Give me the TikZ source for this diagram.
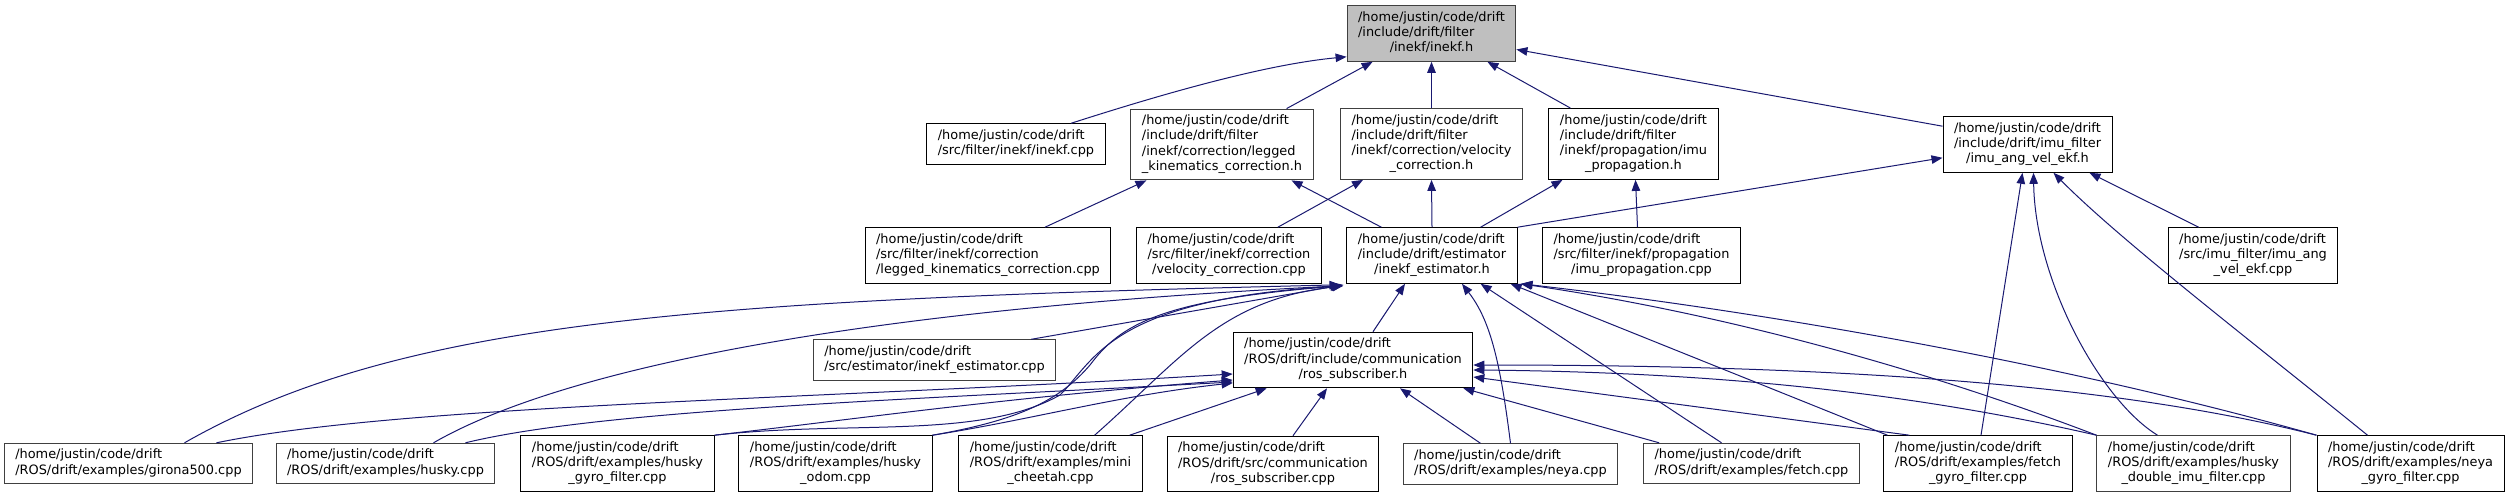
\documentclass[tikz,border=0pt]{standalone}
\usepackage{fontspec}
\setmainfont{DejaVu Sans}
\usetikzlibrary{arrows.meta}

\definecolor{edgeblue}{HTML}{191970}
\definecolor{rootgray}{HTML}{BFBFBF}
\definecolor{framegray}{HTML}{404040}

\newcommand{\filelabel}[2]{\begin{tabular}{@{}l@{}}#1\\\multicolumn{1}{@{}c@{}}{#2}\end{tabular}}

\begin{document}
\begin{tikzpicture}[
            x=1pt, y=-1pt,
            >={Triangle[length=11pt, width=8.5pt]},
            file/.style={
                rectangle,
                draw=black,
                line width=1pt,
                inner xsep=11pt,
                inner ysep=5pt,
                font=\fontsize{12.9}{15.2}\selectfont
            },
            plainfile/.style={
                file,
                draw=framegray
            },
            root/.style={
                plainfile,
                fill=rootgray
            },
            edge/.style={
                ->,
                draw=edgeblue,
                line width=1pt
            }
        ]

            \useasboundingbox (0, 0) rectangle (2509, 497);

            \node[root] (inekfh) at (1431.5, 33.5)
                {\filelabel{/home/justin/code/drift\\/include/drift/filter}{/inekf/inekf.h}};

            \node[file] (inekfcpp) at (1016, 144)
                {\filelabel{/home/justin/code/drift}{/src/filter/inekf/inekf.cpp}};
            \node[plainfile] (leggedh) at (1222, 144.5)
                {\filelabel{/home/justin/code/drift\\/include/drift/filter\\/inekf/correction/legged}{\_kinematics\_correction.h}};
            \node[plainfile] (velocityh) at (1431.5, 144)
                {\filelabel{/home/justin/code/drift\\/include/drift/filter\\/inekf/correction/velocity}{\_correction.h}};
            \node[file] (imuproph) at (1633.5, 144)
                {\filelabel{/home/justin/code/drift\\/include/drift/filter\\/inekf/propagation/imu}{\_propagation.h}};
            \node[file] (angvelh) at (2027.5, 144.5)
                {\filelabel{/home/justin/code/drift\\/include/drift/imu\_filter}{/imu\_ang\_vel\_ekf.h}};

            \node[file] (leggedcpp) at (988, 255.5)
                {\filelabel{/home/justin/code/drift\\/src/filter/inekf/correction}{/legged\_kinematics\_correction.cpp}};
            \node[file] (velocitycpp) at (1229, 255.5)
                {\filelabel{/home/justin/code/drift\\/src/filter/inekf/correction}{/velocity\_correction.cpp}};
            \node[file] (estimatorh) at (1432, 255.5)
                {\filelabel{/home/justin/code/drift\\/include/drift/estimator}{/inekf\_estimator.h}};
            \node[file] (imupropcpp) at (1641.5, 255.5)
                {\filelabel{/home/justin/code/drift\\/src/filter/inekf/propagation}{/imu\_propagation.cpp}};
            \node[file] (angvelcpp) at (2253, 255.5)
                {\filelabel{/home/justin/code/drift\\/src/imu\_filter/imu\_ang}{\_vel\_ekf.cpp}};

            \node[plainfile] (estimatorcpp) at (934.5, 360)
                {\filelabel{/home/justin/code/drift}{/src/estimator/inekf\_estimator.cpp}};
            \node[file] (subscriberh) at (1353, 360)
                {\filelabel{/home/justin/code/drift\\/ROS/drift/include/communication}{/ros\_subscriber.h}};

            \node[plainfile] (girona) at (128.5, 463.5)
                {\filelabel{/home/justin/code/drift}{/ROS/drift/examples/girona500.cpp}};
            \node[plainfile] (husky) at (385.5, 463.5)
                {\filelabel{/home/justin/code/drift}{/ROS/drift/examples/husky.cpp}};
            \node[file] (huskygyro) at (617.5, 463.5)
                {\filelabel{/home/justin/code/drift\\/ROS/drift/examples/husky}{\_gyro\_filter.cpp}};
            \node[file] (huskyodom) at (835.5, 463.5)
                {\filelabel{/home/justin/code/drift\\/ROS/drift/examples/husky}{\_odom.cpp}};
            \node[file] (cheetah) at (1050.5, 463.5)
                {\filelabel{/home/justin/code/drift\\/ROS/drift/examples/mini}{\_cheetah.cpp}};
            \node[file] (subscribercpp) at (1273, 464)
                {\filelabel{/home/justin/code/drift\\/ROS/drift/src/communication}{/ros\_subscriber.cpp}};
            \node[plainfile] (neya) at (1510.5, 464)
                {\filelabel{/home/justin/code/drift}{/ROS/drift/examples/neya.cpp}};
            \node[plainfile] (fetch) at (1751.5, 463.5)
                {\filelabel{/home/justin/code/drift}{/ROS/drift/examples/fetch.cpp}};
            \node[file] (fetchgyro) at (1978, 463.5)
                {\filelabel{/home/justin/code/drift\\/ROS/drift/examples/fetch}{\_gyro\_filter.cpp}};
            \node[plainfile] (huskydouble) at (2193.5, 463.5)
                {\filelabel{/home/justin/code/drift\\/ROS/drift/examples/husky}{\_double\_imu\_filter.cpp}};
            \node[file] (neyagyro) at (2410.5, 463.5)
                {\filelabel{/home/justin/code/drift\\/ROS/drift/examples/neya}{\_gyro\_filter.cpp}};

            % includes of inekf.h
            \draw[edge] ([xshift=55pt]inekfcpp.north)
                .. controls (1150, 98) and (1260, 65) .. ([yshift=5pt]inekfh.south west);
            \draw[edge] ([xshift=-27pt]leggedh.north east) -- ([xshift=26pt]inekfh.south west);
            \draw[edge] (velocityh.north) -- (inekfh.south);
            \draw[edge] ([xshift=22pt]imuproph.north west) -- ([xshift=-29pt]inekfh.south east);
            \draw[edge] ([yshift=-10pt]angvelh.north west) -- ([yshift=-16pt]inekfh.east);

            % correction and propagation headers
            \draw[edge] ([xshift=57pt]leggedcpp.north) -- ([xshift=16pt]leggedh.south west);
            \draw[edge] ([xshift=35pt]estimatorh.north west) -- ([xshift=-22pt]leggedh.south east);
            \draw[edge] ([xshift=-44pt]velocitycpp.north east) -- ([xshift=23pt]velocityh.south west);
            \draw[edge] (estimatorh.north) -- (velocityh.south);
            \draw[edge] ([xshift=-37pt]estimatorh.north east) -- ([xshift=14pt]imuproph.south west);
            \draw[edge] ([xshift=-4pt]imupropcpp.north) -- ([xshift=2pt]imuproph.south);

            % imu_ang_vel_ekf.h
            \draw[edge] (estimatorh.north east) -- ([yshift=15pt]angvelh.south west);
            \draw[edge] ([xshift=31pt]angvelcpp.north west) -- ([xshift=-23pt]angvelh.south east);
            \draw[edge] ([xshift=3pt]fetchgyro.north) -- ([xshift=-5pt]angvelh.south);
            \draw[edge] ([xshift=-36pt]huskydouble.north)
                .. controls (2100, 400) and (2035, 280) .. ([xshift=6pt]angvelh.south);
            \draw[edge] ([xshift=-43pt]neyagyro.north)
                .. controls (2250, 340) and (2120, 240) .. ([xshift=26pt]angvelh.south);

            % inekf_estimator.h, left side
            \draw[edge] ([xshift=-25pt]estimatorcpp.north east) -- ([xshift=-3pt,yshift=-1pt]estimatorh.south west);
            \draw[edge] ([xshift=56pt]girona.north)
                .. controls (400, 320) and (700, 300) .. ([xshift=-6pt,yshift=-1pt]estimatorh.south west);
            \draw[edge] ([xshift=48pt]husky.north)
                .. controls (560, 370) and (850, 310) .. ([xshift=-5pt,yshift=-2pt]estimatorh.south west);
            \draw[edge] (huskygyro.north east)
                .. controls (850, 420) and (980, 440) .. (1060, 395)
                .. controls (1095, 360) and (1110, 300) .. ([xshift=-4pt,yshift=-2pt]estimatorh.south west);
            \draw[edge] (huskyodom.north east)
                .. controls (1020, 420) and (1060, 400) .. (1090, 365)
                .. controls (1120, 325) and (1160, 300) .. ([xshift=-4pt,yshift=-2pt]estimatorh.south west);
            \draw[edge] ([xshift=-48pt]cheetah.north east)
                .. controls (1180, 360) and (1220, 300) .. ([xshift=-3pt,yshift=-2pt]estimatorh.south west);
            \draw[edge] ([xshift=20pt]subscriberh.north) -- ([xshift=-27pt]estimatorh.south);

            % inekf_estimator.h, right side
            \draw[edge] (neya.north)
                .. controls (1500, 360) and (1490, 320) .. ([xshift=30pt]estimatorh.south);
            \draw[edge] ([xshift=-30pt]fetch.north) -- ([xshift=-37pt]estimatorh.south east);
            \draw[edge] ([xshift=4pt]fetchgyro.north west) -- ([xshift=-7pt]estimatorh.south east);
            \draw[edge] (huskydouble.north west)
                .. controls (1900, 360) and (1700, 310) .. ([xshift=3pt]estimatorh.south east);
            \draw[edge] (neyagyro.north west)
                .. controls (2050, 360) and (1750, 310) .. ([xshift=4pt]estimatorh.south east);

            % ros_subscriber.h
            \draw[edge] ([xshift=88pt]girona.north)
                .. controls (400, 405) and (800, 400) .. ([yshift=-14pt]subscriberh.west);
            \draw[edge] ([xshift=80pt]husky.north)
                .. controls (600, 410) and (900, 400) .. ([yshift=-22pt]subscriberh.west);
            \draw[edge] (huskygyro.north east)
                .. controls (850, 420) and (1000, 398) .. ([yshift=-20pt]subscriberh.west);
            \draw[edge] (huskyodom.north east)
                .. controls (1030, 420) and (1120, 395) .. ([yshift=-23pt]subscriberh.west);
            \draw[edge] ([xshift=-13pt]cheetah.north east) -- ([xshift=34pt]subscriberh.south west);
            \draw[edge] ([xshift=20pt]subscribercpp.north) -- ([xshift=-26pt]subscriberh.south);
            \draw[edge] ([xshift=-30pt]neya.north) -- ([xshift=47pt]subscriberh.south);
            \draw[edge] ([xshift=16pt]fetch.north west) -- ([xshift=-10pt]subscriberh.south east);
            \draw[edge] ([xshift=26pt]fetchgyro.north west) -- ([yshift=-17pt]subscriberh.east);
            \draw[edge] (huskydouble.north west)
                .. controls (1900, 390) and (1700, 372) .. ([yshift=-10pt]subscriberh.east);
            \draw[edge] (neyagyro.north west)
                .. controls (2100, 380) and (1800, 365) .. ([yshift=-5pt]subscriberh.east);

        \end{tikzpicture}
\end{document}
